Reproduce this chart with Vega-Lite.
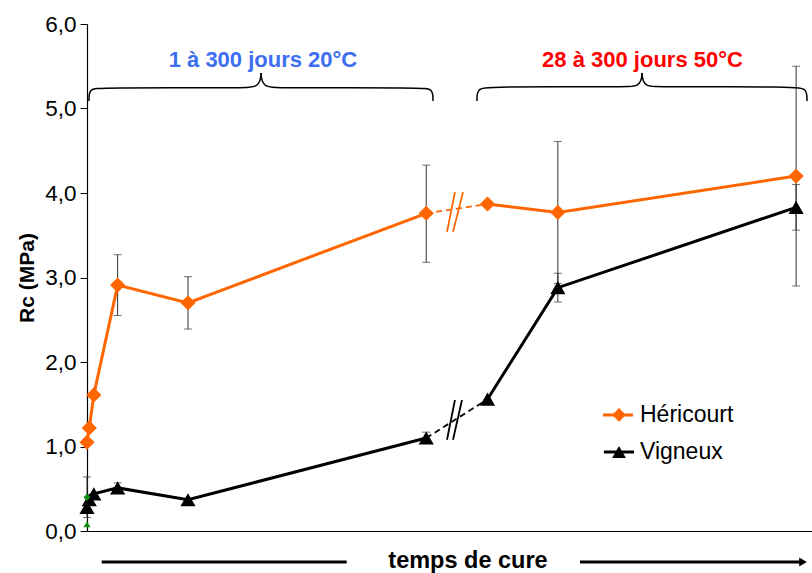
{
  "$schema": "https://vega.github.io/schema/vega-lite/v6.json",
  "width": 725,
  "height": 507,
  "autosize": {"type": "none"},
  "padding": {"left": 87, "top": 24, "right": 0, "bottom": 42},
  "config": {"view": {"stroke": null}, "font": "Liberation Sans"},
  "datasets": {
    "series": [
      {"serie": "Héricourt", "seg": "a", "t": 1, "v": 1.05},
      {"serie": "Héricourt", "seg": "a", "t": 3, "v": 1.22},
      {"serie": "Héricourt", "seg": "a", "t": 7, "v": 1.61},
      {"serie": "Héricourt", "seg": "a", "t": 28, "v": 2.91},
      {"serie": "Héricourt", "seg": "a", "t": 90, "v": 2.70},
      {"serie": "Héricourt", "seg": "a", "t": 300, "v": 3.76},
      {"serie": "Héricourt", "seg": "b", "t": 354, "v": 3.87},
      {"serie": "Héricourt", "seg": "b", "t": 416, "v": 3.77},
      {"serie": "Héricourt", "seg": "b", "t": 626, "v": 4.20},
      {"serie": "Vigneux", "seg": "a", "t": 1, "v": 0.28},
      {"serie": "Vigneux", "seg": "a", "t": 3, "v": 0.37},
      {"serie": "Vigneux", "seg": "a", "t": 7, "v": 0.44},
      {"serie": "Vigneux", "seg": "a", "t": 28, "v": 0.51},
      {"serie": "Vigneux", "seg": "a", "t": 90, "v": 0.37},
      {"serie": "Vigneux", "seg": "a", "t": 300, "v": 1.10},
      {"serie": "Vigneux", "seg": "b", "t": 354, "v": 1.56},
      {"serie": "Vigneux", "seg": "b", "t": 416, "v": 2.88},
      {"serie": "Vigneux", "seg": "b", "t": 626, "v": 3.83}
    ],
    "dash": [
      {"serie": "Héricourt", "t": 300, "v": 3.76},
      {"serie": "Héricourt", "t": 354, "v": 3.87},
      {"serie": "Vigneux", "t": 300, "v": 1.10},
      {"serie": "Vigneux", "t": 354, "v": 1.56}
    ],
    "err": [
      {"t": 1, "v": 0.16, "v2": 0.64},
      {"t": 28, "v": 2.55, "v2": 3.27},
      {"t": 90, "v": 2.39, "v2": 3.01},
      {"t": 300, "v": 3.18, "v2": 4.33},
      {"t": 416, "v": 2.93, "v2": 4.61},
      {"t": 626, "v": 2.90, "v2": 5.50},
      {"t": 28, "v": 0.46, "v2": 0.57},
      {"t": 300, "v": 1.04, "v2": 1.17},
      {"t": 416, "v": 2.71, "v2": 3.05},
      {"t": 626, "v": 3.56, "v2": 4.10}
    ],
    "green": [
      {"shape": "diamond", "t": 1, "v": 0.40},
      {"shape": "triangle-up", "t": 1, "v": 0.08}
    ],
    "breaks": [
      {"serie": "Héricourt", "t": 318.3, "v": 3.54, "t2": 325.3, "v2": 4.01},
      {"serie": "Héricourt", "t": 323.6, "v": 3.54, "t2": 332.4, "v2": 4.01},
      {"serie": "Vigneux", "t": 318.3, "v": 1.08, "t2": 325.3, "v2": 1.55},
      {"serie": "Vigneux", "t": 323.6, "v": 1.08, "t2": 331.5, "v2": 1.55}
    ],
    "braces": [
      {"part": "1L", "o": 1, "t": 2.76, "v": 5.089},
      {"part": "1L", "o": 2, "t": 2.76, "v": 5.231},
      {"part": "1L", "o": 3, "t": 12.46, "v": 5.246},
      {"part": "1L", "o": 4, "t": 135.85, "v": 5.246},
      {"part": "1L", "o": 5, "t": 151.7, "v": 5.246},
      {"part": "1L", "o": 6, "t": 154.4, "v": 5.373},
      {"part": "1L", "o": 7, "t": 154.4, "v": 5.42},
      {"part": "1R", "o": 1, "t": 305.96, "v": 5.089},
      {"part": "1R", "o": 2, "t": 305.96, "v": 5.231},
      {"part": "1R", "o": 3, "t": 296.3, "v": 5.246},
      {"part": "1R", "o": 4, "t": 172.9, "v": 5.246},
      {"part": "1R", "o": 5, "t": 157.0, "v": 5.246},
      {"part": "1R", "o": 6, "t": 154.4, "v": 5.373},
      {"part": "1R", "o": 7, "t": 154.4, "v": 5.42},
      {"part": "2L", "o": 1, "t": 344.7, "v": 5.089},
      {"part": "2L", "o": 2, "t": 344.7, "v": 5.231},
      {"part": "2L", "o": 3, "t": 354.4, "v": 5.258},
      {"part": "2L", "o": 4, "t": 474.3, "v": 5.258},
      {"part": "2L", "o": 5, "t": 487.5, "v": 5.258},
      {"part": "2L", "o": 6, "t": 490.2, "v": 5.373},
      {"part": "2L", "o": 7, "t": 490.2, "v": 5.42},
      {"part": "2R", "o": 1, "t": 635.6, "v": 5.089},
      {"part": "2R", "o": 2, "t": 635.6, "v": 5.231},
      {"part": "2R", "o": 3, "t": 625.9, "v": 5.258},
      {"part": "2R", "o": 4, "t": 506.0, "v": 5.258},
      {"part": "2R", "o": 5, "t": 492.8, "v": 5.258},
      {"part": "2R", "o": 6, "t": 490.2, "v": 5.373},
      {"part": "2R", "o": 7, "t": 490.2, "v": 5.42}
    ],
    "titles": [
      {"label": "1 à 300 jours 20°C", "t": 156.1, "v": 5.574, "c": "blue"},
      {"label": "28 à 300 jours 50°C", "t": 490.6, "v": 5.574, "c": "red"}
    ],
    "legend": [
      {"serie": "Héricourt", "t": 455.8, "t2": 482.2, "tm": 469.9, "tl": 488.4, "v": 1.373},
      {"serie": "Vigneux", "t": 456.6, "t2": 483.1, "tm": 469.9, "tl": 488.4, "v": 0.935}
    ],
    "arrows": [
      {"t": 13.96, "t2": 229.9, "v": -0.367},
      {"t": 435.5, "t2": 630.5, "v": -0.367}
    ]
  },
  "encoding": {
    "x": {"field": "t", "type": "quantitative", "scale": {"domain": [1, 640], "nice": false, "zero": false},
      "axis": {"labels": false, "ticks": false, "title": null, "grid": false, "domainColor": "#000000", "domainWidth": 1.2}},
    "y": {"field": "v", "type": "quantitative", "scale": {"domain": [0, 6], "nice": false},
      "axis": {"values": [0, 1, 2, 3, 4, 5, 6], "grid": false, "labelExpr": "replace(format(datum.value, '.1f'), '.', ',')",
        "labelFontSize": 22.5, "labelColor": "#000000", "labelPadding": 4, "tickSize": 7, "tickColor": "#000000",
        "domainColor": "#000000", "domainWidth": 1.2, "title": "Rc (MPa)", "titleFontSize": 21, "titleFontWeight": "bold",
        "titleColor": "#000000", "titlePadding": 7}}
  },
  "layer": [
    {
      "data": {"name": "braces"},
      "mark": {"type": "line", "interpolate": "basis", "color": "#000000", "strokeWidth": 1.5},
      "encoding": {"detail": {"field": "part"}, "order": {"field": "o", "type": "quantitative"}}
    },
    {
      "data": {"name": "titles"},
      "transform": [{"filter": "datum.c === 'blue'"}],
      "mark": {"type": "text", "fontSize": 22, "fontWeight": "bold", "align": "center", "baseline": "middle", "color": "#3D6EF2"},
      "encoding": {"text": {"field": "label"}}
    },
    {
      "data": {"name": "titles"},
      "transform": [{"filter": "datum.c === 'red'"}],
      "mark": {"type": "text", "fontSize": 22, "fontWeight": "bold", "align": "center", "baseline": "middle", "color": "#FF0000"},
      "encoding": {"text": {"field": "label"}}
    },
    {
      "data": {"name": "err"},
      "mark": {"type": "rule", "color": "#333333", "strokeWidth": 1},
      "encoding": {"y2": {"field": "v2"}}
    },
    {
      "data": {"name": "err"},
      "mark": {"type": "tick", "orient": "horizontal", "color": "#333333", "size": 8, "thickness": 1}
    },
    {
      "data": {"name": "err"},
      "mark": {"type": "tick", "orient": "horizontal", "color": "#333333", "size": 8, "thickness": 1},
      "encoding": {"y": {"field": "v2", "type": "quantitative"}}
    },
    {
      "data": {"name": "dash"},
      "mark": {"type": "line", "strokeDash": [6, 4], "strokeWidth": 1.8},
      "encoding": {"color": {"field": "serie", "type": "nominal", "scale": {"domain": ["Héricourt", "Vigneux"], "range": ["#FF6600", "#000000"]}, "legend": null},
        "detail": {"field": "serie"}}
    },
    {
      "data": {"name": "breaks"},
      "mark": {"type": "rule", "strokeWidth": 1.8},
      "encoding": {"x2": {"field": "t2"}, "y2": {"field": "v2"},
        "color": {"field": "serie", "type": "nominal", "scale": {"domain": ["Héricourt", "Vigneux"], "range": ["#FF6600", "#000000"]}, "legend": null}}
    },
    {
      "data": {"name": "series"},
      "mark": {"type": "line", "strokeWidth": 3},
      "encoding": {"color": {"field": "serie", "type": "nominal", "scale": {"domain": ["Héricourt", "Vigneux"], "range": ["#FF6600", "#000000"]}, "legend": null},
        "detail": {"field": "seg"}}
    },
    {
      "data": {"name": "series"},
      "mark": {"type": "point", "filled": true, "opacity": 1, "size": 230},
      "encoding": {"color": {"field": "serie", "type": "nominal", "scale": {"domain": ["Héricourt", "Vigneux"], "range": ["#FF6600", "#000000"]}, "legend": null},
        "shape": {"field": "serie", "type": "nominal", "scale": {"domain": ["Héricourt", "Vigneux"], "range": ["diamond", "triangle-up"]}, "legend": null}}
    },
    {
      "data": {"name": "green"},
      "mark": {"type": "point", "filled": true, "opacity": 1, "size": 50, "color": "#109010"},
      "encoding": {"shape": {"field": "shape", "type": "nominal", "scale": null}}
    },
    {
      "data": {"name": "legend"},
      "mark": {"type": "rule", "strokeWidth": 3},
      "encoding": {"x2": {"field": "t2"},
        "color": {"field": "serie", "type": "nominal", "scale": {"domain": ["Héricourt", "Vigneux"], "range": ["#FF6600", "#000000"]}, "legend": null}}
    },
    {
      "data": {"name": "legend"},
      "mark": {"type": "point", "filled": true, "opacity": 1, "size": 190},
      "encoding": {"x": {"field": "tm", "type": "quantitative"},
        "color": {"field": "serie", "type": "nominal", "scale": {"domain": ["Héricourt", "Vigneux"], "range": ["#FF6600", "#000000"]}, "legend": null},
        "shape": {"field": "serie", "type": "nominal", "scale": {"domain": ["Héricourt", "Vigneux"], "range": ["diamond", "triangle-up"]}, "legend": null}}
    },
    {
      "data": {"name": "legend"},
      "mark": {"type": "text", "fontSize": 23, "align": "left", "baseline": "middle", "color": "#000000"},
      "encoding": {"x": {"field": "tl", "type": "quantitative"}, "text": {"field": "serie"}}
    },
    {
      "data": {"name": "arrows"},
      "mark": {"type": "rule", "strokeWidth": 3, "color": "#000000"},
      "encoding": {"x2": {"field": "t2"}}
    },
    {
      "data": {"values": [{"t": 632.1, "v": -0.367}]},
      "mark": {"type": "point", "shape": "triangle-right", "filled": true, "opacity": 1, "size": 80, "color": "#000000"}
    },
    {
      "data": {"values": [{"t": 336.8, "v": -0.355, "label": "temps de cure"}]},
      "mark": {"type": "text", "fontSize": 23.5, "fontWeight": "bold", "align": "center", "baseline": "middle", "color": "#000000"},
      "encoding": {"text": {"field": "label"}}
    }
  ]
}
